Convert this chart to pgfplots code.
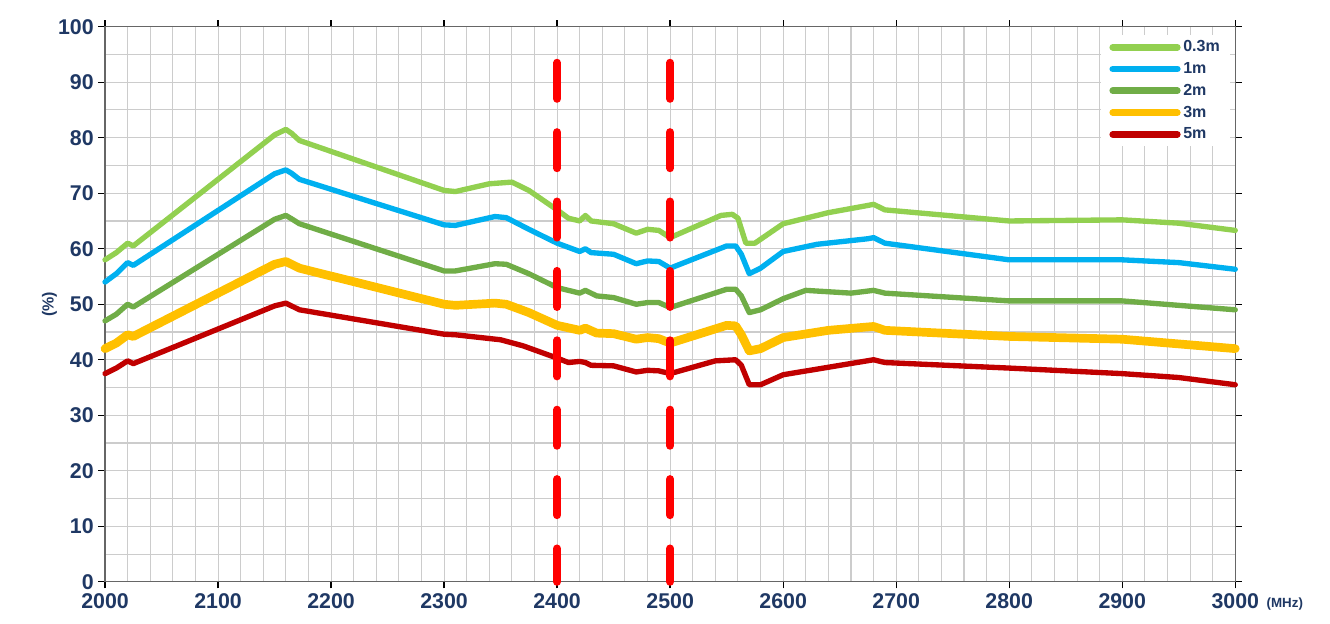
\documentclass[border=0pt]{standalone}
\usepackage{pgfplots}
\pgfplotsset{compat=1.18}
\usepackage{fontspec}
\setmainfont{Liberation Sans}
\definecolor{txt}{HTML}{1F3864}
\definecolor{cA}{HTML}{92D050}
\definecolor{cB}{HTML}{00B0F0}
\definecolor{cC}{HTML}{70AD47}
\definecolor{cD}{HTML}{FFC000}
\definecolor{cE}{HTML}{C00000}
\begin{document}
\begin{tikzpicture}
\begin{axis}[scale only axis, width=847pt, height=416pt,
 xmin=2000,xmax=3000,ymin=0,ymax=100,
 xtick={2000,2100,...,3000}, ytick={0,10,...,100},
 minor x tick num=4, minor y tick num=1,
 grid=both, major grid style={gray!40,line width=0.8pt}, minor grid style={gray!40,line width=0.8pt},
 axis line style={gray!80!black,line width=1pt},
 tick style={black,line width=1pt}, major tick length=5pt, minor tick length=0pt,
 tick align=outside,
 xticklabel style={/pgf/number format/1000 sep={}},
 ticklabel style={font=\bfseries\fontsize{16}{16}\selectfont, text=txt},
 /pgf/number format/assume math mode=true,
 ylabel={(\%)}, ylabel style={font=\bfseries\fontsize{12}{12}\selectfont, text=txt, yshift=-6pt},
 legend style={at={(0.996,0.985)},anchor=north east, draw=none, fill=white, font=\bfseries\fontsize{12}{12}\selectfont, text=txt, row sep=2.5pt, inner xsep=6pt},
 legend cell align=left,
 legend image code/.code={\draw[#1,line width=5pt,line cap=round] (0cm,0cm) -- (1.7cm,0cm);},
 every axis plot/.append style={line cap=round, line join=round},
 clip=false]
\path ([xshift=-78.7pt,yshift=-31.5pt]rel axis cs:0,0) ([xshift=71pt,yshift=20pt]rel axis cs:1,1);
\addplot[cA,line width=4pt] coordinates {(2000,58)(2010,59.3)(2020,61)(2025,60.5)(2150,80.5)(2160,81.5)(2165,80.8)(2172,79.5)(2300,70.5)(2310,70.3)(2340,71.7)(2360,72)(2375,70.5)(2400,67)(2410,65.5)(2420,65)(2425,66)(2430,65)(2450,64.5)(2470,62.8)(2480,63.5)(2490,63.3)(2500,62)(2545,66)(2555,66.2)(2560,65.5)(2567,61)(2575,61)(2600,64.5)(2640,66.5)(2675,67.8)(2680,68)(2690,67)(2800,65)(2900,65.2)(2950,64.6)(3000,63.3)};
\addplot[cB,line width=4pt] coordinates {(2000,54)(2010,55.5)(2020,57.5)(2025,57)(2150,73.5)(2160,74.2)(2165,73.6)(2172,72.5)(2300,64.3)(2310,64.2)(2345,65.8)(2355,65.6)(2375,63.5)(2400,61)(2420,59.5)(2425,60)(2430,59.3)(2450,59)(2470,57.3)(2480,57.8)(2490,57.7)(2500,56.5)(2550,60.5)(2558,60.5)(2563,59)(2570,55.5)(2580,56.5)(2600,59.5)(2630,60.8)(2675,61.8)(2680,62)(2690,61)(2800,58)(2900,58)(2950,57.5)(3000,56.3)};
\addplot[cC,line width=4pt] coordinates {(2000,47)(2010,48.2)(2020,50)(2025,49.5)(2150,65.3)(2160,66)(2165,65.4)(2172,64.5)(2300,56)(2310,56)(2345,57.3)(2355,57.2)(2375,55.5)(2400,53)(2420,52)(2425,52.5)(2435,51.5)(2450,51.2)(2470,50)(2480,50.3)(2490,50.3)(2500,49.4)(2550,52.7)(2558,52.7)(2563,51.5)(2570,48.5)(2580,49)(2600,51)(2620,52.5)(2660,52)(2680,52.5)(2690,52)(2800,50.6)(2900,50.6)(3000,49)};
\addplot[cD,line width=6.5pt] coordinates {(2000,42)(2010,43)(2020,44.5)(2025,44.2)(2150,57.2)(2160,57.7)(2165,57.2)(2172,56.5)(2300,50)(2310,49.8)(2345,50.2)(2355,50)(2375,48.5)(2400,46.2)(2420,45.3)(2425,45.7)(2435,44.8)(2450,44.7)(2470,43.7)(2480,44)(2490,43.8)(2500,43)(2550,46.2)(2558,46.1)(2563,44.5)(2570,41.6)(2580,42)(2600,44)(2640,45.3)(2680,46)(2690,45.3)(2800,44.2)(2900,43.7)(3000,42)};
\addplot[cE,line width=4pt] coordinates {(2000,37.5)(2010,38.5)(2020,39.8)(2025,39.3)(2150,49.7)(2160,50.2)(2165,49.7)(2172,49)(2300,44.6)(2310,44.5)(2350,43.6)(2370,42.5)(2400,40.3)(2410,39.5)(2420,39.7)(2425,39.5)(2430,39)(2450,38.9)(2470,37.8)(2480,38.1)(2490,38)(2500,37.5)(2540,39.8)(2558,40)(2563,39)(2570,35.5)(2580,35.5)(2600,37.3)(2680,40)(2690,39.5)(2800,38.5)(2900,37.5)(2950,36.8)(3000,35.5)};
\legend{0.3m,1m,2m,3m,5m}
\addplot[red,line width=6pt,dash pattern=on 27pt off 25pt,line cap=round,forget plot] coordinates {(2400,93.5)(2400,0)};
\addplot[red,line width=6pt,dash pattern=on 27pt off 25pt,line cap=round,forget plot] coordinates {(2500,93.5)(2500,0)};
\addplot[red,only marks,mark=*,mark size=2pt,forget plot] coordinates {(2400,0)(2500,0)};
\node[anchor=west,font=\bfseries\fontsize{10}{10}\selectfont,text=txt] at ([xshift=20pt,yshift=-17pt]rel axis cs:1,0) {(MHz)};
\end{axis}
\end{tikzpicture}
\end{document}
